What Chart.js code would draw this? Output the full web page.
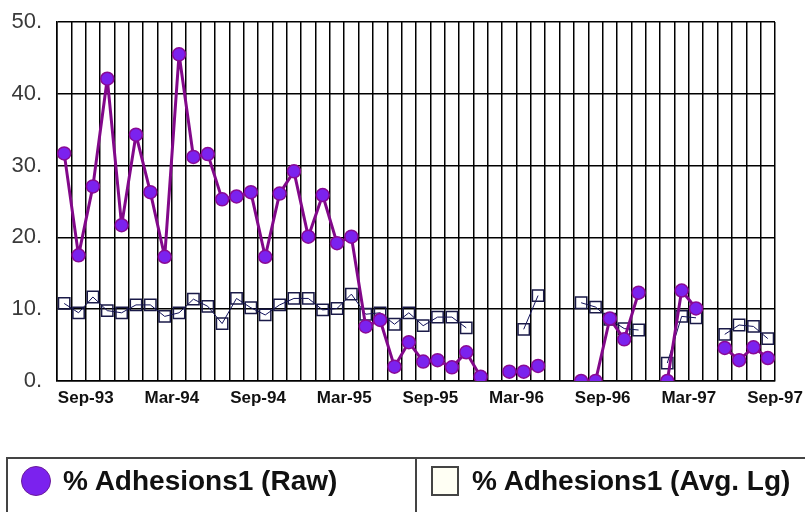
<!DOCTYPE html>
<html>
<head>
<meta charset="utf-8">
<script src="https://cdn.jsdelivr.net/npm/chart.js@4/dist/chart.umd.min.js"></script>
<style>
  html, body { margin: 0; padding: 0; background: #fff; }
  #wrap { position: relative; width: 805px; height: 512px; overflow: hidden; background: #fff; }
  #c { position: absolute; left: 0; top: 0; }
  #legend { position: absolute; left: 6px; top: 457px; width: 820px; height: 80px;
            border: 2px solid #444; box-sizing: border-box; }
  #legend .div { position: absolute; left: 407px; top: 0; width: 2px; height: 80px; background: #444; }
  .item { position: absolute; top: 0; height: 44px; display: flex; align-items: center;
          font-family: "Liberation Sans", Arial, sans-serif; font-weight: bold; font-size: 28px; color: #111; white-space: nowrap; }
  .dot { width: 30px; height: 30px; border-radius: 50%; background: #7b22ee; border: 1px solid #6a1a9a; box-sizing: border-box; margin-right: 12px; }
  .sq { width: 28px; height: 30px; background: #fffff4; border: 2px solid #444; box-sizing: border-box; margin-right: 13px; }
</style>
</head>
<body>
<div id="wrap">
  <canvas id="c" width="805" height="512"></canvas>
  <div id="legend">
    <div class="item" style="left:13px;"><span class="dot"></span><span>% Adhesions1 (Raw)</span></div>
    <div class="div"></div>
    <div class="item" style="left:423px;"><span class="sq"></span><span>% Adhesions1 (Avg. Lg)</span></div>
  </div>
</div>
<script>
// Tick labels shown on the month axis (every 6th month gridline)
const tickLabels = ['Sep-93', 'Mar-94', 'Sep-94', 'Mar-95', 'Sep-95', 'Mar-96', 'Sep-96', 'Mar-97', 'Sep-97'];

// % Adhesions1 (Raw) — one value per month column, null = no data
const rawValues = [
  31.7, 17.5, 27.1, 42.1, 21.7, 34.3, 26.3, 17.3, 45.5, 31.2,
  31.6, 25.3, 25.7, 26.3, 17.3, 26.1, 29.2, 20.1, 25.9, 19.2,
  20.1, 7.6, 8.5, 2.0, 5.4, 2.7, 2.9, 1.9, 4.0, 0.6,
  null, 1.3, 1.3, 2.1, null, null, 0, 0, 8.7, 5.8,
  12.3, null, 0, 12.6, 10.1, null, 4.6, 2.9, 4.7, 3.2
];

// % Adhesions1 (Avg. Lg)
const avgValues = [
  10.8, 9.5, 11.7, 9.8, 9.5, 10.6, 10.6, 9.0, 9.5, 11.4,
  10.4, 8.0, 11.5, 10.2, 9.2, 10.6, 11.5, 11.5, 9.9, 10.1,
  12.1, 9.3, 9.5, 7.9, 9.5, 7.7, 8.9, 8.9, 7.4, null,
  null, null, 7.2, 11.9, null, null, 10.9, 10.3, 8.6, 7.3,
  7.1, null, 2.5, 9.0, 8.8, null, 6.5, 7.8, 7.6, 5.9
];

const yTicks = [0, 10, 20, 30, 40, 50];

const nCols = rawValues.length;
const toPoints = arr => arr.map((v, i) => ({ x: i + 0.5, y: v }));

new Chart(document.getElementById('c'), {
  type: 'line',
  data: {
    datasets: [
      {
        label: '% Adhesions1 (Raw)',
        data: toPoints(rawValues),
        borderColor: '#82088a',
        borderWidth: 3,
        borderJoinStyle: 'round',
        pointRadius: 6.5,
        pointBackgroundColor: '#7b22ee',
        pointBorderColor: '#8a0a95',
        pointBorderWidth: 1.5,
        spanGaps: false,
        tension: 0
      },
      {
        label: '% Adhesions1 (Avg. Lg)',
        data: toPoints(avgValues),
        borderColor: '#10105a',
        borderWidth: 1,
        pointStyle: 'rect',
        pointRadius: 8,
        pointBackgroundColor: 'rgba(0,0,0,0)',
        pointBorderColor: '#1a1a48',
        pointBorderWidth: 1.5,
        spanGaps: false,
        tension: 0
      }
    ]
  },
  options: {
    responsive: false,
    animation: false,
    events: [],
    layout: { padding: { left: 0, top: 22, right: 30, bottom: 0 } },
    plugins: { legend: { display: false }, tooltip: { enabled: false } },
    scales: {
      x: {
        type: 'linear',
        min: 0,
        max: nCols,
        afterBuildTicks: s => { s.ticks = Array.from({ length: nCols + 1 }, (_, i) => ({ value: i })); },
        afterFit: s => { s.height = 131; s.paddingLeft = 0; s.paddingRight = 0; },
        grid: { color: '#000', lineWidth: 1.5, drawTicks: false },
        border: { color: '#000', width: 1.5 },
        ticks: {
          autoSkip: false,
          maxRotation: 0,
          padding: 7,
          color: '#111',
          font: { family: '"Liberation Sans", Arial, sans-serif', size: 17, weight: 'bold' },
          callback: v => ((v - 2) % 6 === 0 && v >= 2) ? tickLabels[(v - 2) / 6] : ''
        }
      },
      y: {
        min: 0,
        max: 50,
        afterBuildTicks: s => { s.ticks = yTicks.map(v => ({ value: v })); },
        afterFit: s => { s.width = 57; s.paddingTop = 0; s.paddingBottom = 0; },
        grid: { color: '#000', lineWidth: 1.5, drawTicks: false },
        border: { color: '#000', width: 1.5 },
        ticks: {
          padding: 15,
          color: '#3a3a3a',
          font: { family: '"Liberation Sans", Arial, sans-serif', size: 22 },
          callback: v => v + '.'
        }
      }
    }
  }
});
</script>
</body>
</html>
